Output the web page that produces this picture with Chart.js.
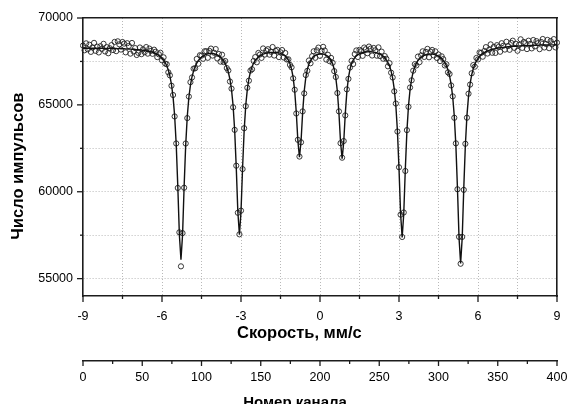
<!DOCTYPE html>
<html>
<head>
<meta charset="utf-8">
<title>Мёссбауэровский спектр</title>
<script src="https://cdn.jsdelivr.net/npm/chart.js@4"></script>
<style>
  html, body { margin: 0; padding: 0; background: #fff; }
  canvas { display: block; }
</style>
</head>
<body>
<canvas id="spectrum" width="570" height="404"></canvas>
<script>
// velocity of the first channel and the step between channels, mm/s
const velocityStart = -9;
const velocityStep = 0.06;

// measured counts, one per channel
const counts = [
  68412, 68142, 68542, 68201, 68461, 68050, 68300, 68569, 68108, 68348,
  68017, 68376, 68225, 68514, 68073, 68322, 67971, 68259, 68438, 68156,
  68624, 68091, 68658, 68486, 68183, 68620, 68526, 68023, 68549, 68394,
  67949, 68563, 68076, 68269, 67870, 67992, 68303, 67920, 68198, 68034,
  68327, 67948, 68240, 68107, 67939, 68176, 68056, 67748, 67911, 68002,
  67565, 67737, 67376, 67341, 66873, 66700, 66103, 65568, 64335, 62779,
  60219, 57664, 55707, 57618, 60231, 62777, 64239, 65477, 66307, 66580,
  67086, 67106, 67644, 67368, 67858, 67833, 67651, 68086, 68089, 67709,
  68108, 68240, 67836, 67998, 68212, 67671, 67928, 67488, 67888, 67462,
  67527, 67119, 66979, 66345, 65934, 64862, 63561, 61500, 58790, 57548,
  58912, 61305, 63656, 64925, 65985, 66393, 66974, 67051, 67528, 67750,
  67451, 67990, 67899, 67704, 68248, 67893, 68127, 68205, 67890, 68057,
  68329, 67840, 68105, 68165, 67750, 68025, 68156, 67727, 67988, 67611,
  67622, 67300, 67161, 66528, 65872, 64505, 62989, 62025, 62848, 64625,
  65662, 66716, 66959, 67555, 67395, 67802, 68085, 67709, 68140, 68297,
  67820, 68102, 68340, 68128, 67606, 67885, 67519, 67703, 67421, 66943,
  66604, 65681, 64626, 62796, 61959, 62918, 64394, 65893, 66496, 67151,
  67535, 67351, 67923, 68133, 67754, 68169, 68086, 67823, 68301, 68202,
  67973, 68356, 68237, 67840, 68275, 68139, 67830, 68309, 67807, 68064,
  67655, 67808, 67653, 67220, 67402, 66854, 66577, 65780, 65078, 63465,
  61411, 58681, 57397, 58806, 61195, 63547, 64888, 66000, 66414, 66968,
  67344, 67271, 67780, 67460, 67852, 68083, 67759, 68050, 68223, 67738,
  68063, 68160, 67846, 68081, 67701, 67898, 67522, 67794, 67634, 67269,
  67338, 66872, 66779, 66118, 65490, 64257, 62786, 60143, 57403, 55856,
  57401, 60108, 62761, 64261, 65643, 66168, 66819, 67290, 67198, 67700,
  67615, 68019, 67991, 67773, 68103, 68323, 67955, 68171, 68481, 67997,
  68338, 67988, 68437, 68332, 68057, 68550, 68401, 68182, 68633, 68382,
  68170, 68567, 68694, 68281, 68518, 68114, 68449, 68774, 68279, 68623,
  68557, 68211, 68694, 68508, 68251, 68734, 68367, 68670, 68553, 68206,
  68619, 68792, 68304, 68507, 68739, 68262, 68673, 68495, 68786, 68308,
  68579
];

// fitted curve, same channels
const fitCounts = [
  68262, 68262, 68262, 68261, 68261, 68260, 68260, 68259, 68258, 68258,
  68257, 68256, 68255, 68254, 68253, 68252, 68251, 68249, 68248, 68246,
  68244, 68241, 68238, 68236, 68233, 68230, 68226, 68223, 68219, 68214,
  68209, 68203, 68196, 68189, 68180, 68172, 68163, 68150, 68138, 68124,
  68107, 68088, 68070, 68047, 68019, 67986, 67946, 67898, 67841, 67772,
  67685, 67577, 67436, 67251, 67003, 66660, 66173, 65458, 64375, 62719,
  60309, 57514, 56087, 57498, 60291, 62697, 64349, 65427, 66137, 66620,
  66956, 67206, 67404, 67548, 67658, 67743, 67811, 67866, 67909, 67939,
  67958, 67960, 67956, 67938, 67912, 67871, 67818, 67748, 67658, 67542,
  67387, 67169, 66879, 66475, 65874, 64952, 63521, 61390, 58850, 57528,
  58842, 61385, 63526, 64965, 65895, 66503, 66914, 67201, 67408, 67560,
  67661, 67750, 67819, 67874, 67918, 67953, 67977, 67995, 68010, 68017,
  68019, 68020, 68015, 68005, 67990, 67965, 67926, 67877, 67808, 67711,
  67572, 67370, 67061, 66578, 65792, 64545, 62919, 61995, 62908, 64535,
  65782, 66566, 67049, 67355, 67555, 67692, 67785, 67849, 67890, 67917,
  67930, 67932, 67920, 67898, 67856, 67795, 67699, 67563, 67361, 67053,
  66564, 65771, 64506, 62856, 61909, 62838, 64494, 65763, 66566, 67061,
  67375, 67581, 67723, 67823, 67894, 67949, 67986, 68013, 68031, 68042,
  68053, 68056, 68057, 68050, 68035, 68019, 67990, 67959, 67917, 67864,
  67795, 67708, 67593, 67440, 67232, 66944, 66527, 65910, 64968, 63505,
  61331, 58741, 57367, 58716, 61305, 63477, 64938, 65880, 66494, 66908,
  67194, 67401, 67550, 67660, 67742, 67803, 67849, 67880, 67903, 67918,
  67923, 67920, 67906, 67881, 67851, 67808, 67752, 67674, 67574, 67439,
  67258, 67012, 66669, 66178, 65450, 64347, 62656, 60193, 57333, 55876,
  57341, 60208, 62681, 64381, 65493, 66228, 66729, 67080, 67338, 67530,
  67675, 67789, 67881, 67953, 68013, 68063, 68105, 68141, 68171, 68197,
  68218, 68238, 68257, 68272, 68287, 68300, 68311, 68322, 68333, 68342,
  68350, 68357, 68364, 68371, 68378, 68384, 68389, 68394, 68399, 68403,
  68407, 68411, 68414, 68418, 68421, 68424, 68427, 68430, 68433, 68436,
  68439, 68442, 68444, 68447, 68449, 68452, 68453, 68455, 68456, 68458,
  68459
];

// axis ticks
const velocityMajor = [-9, -6, -3, 0, 3, 6, 9];
const velocityMinor = [-7.5, -4.5, -1.5, 1.5, 4.5, 7.5];
const countMajor = [55000, 60000, 65000, 70000];
const countMinor = [57500, 62500, 67500];
const channelMajor = [0, 50, 100, 150, 200, 250, 300, 350, 400];
const channelMinor = [25, 75, 125, 175, 225, 275, 325, 375];

const FONT = "'Liberation Sans', Arial, Helvetica, sans-serif";
const AXIS = '#1c1c1c';
const GRID = '#b9b9b9';
const NBSP = '\u00a0';

const toPoints = arr => arr.map((y, i) => ({ x: velocityStart + i * velocityStep, y }));
const setTicks = values => scale => {
    scale.ticks = values.slice().sort((a, b) => a - b).map(value => ({ value }));
};
const hideAt = edges => c => (c.tick && edges.includes(c.tick.value)) ? 'rgba(0,0,0,0)' : GRID;

// fixed box sizes, and no extra room for labels hanging over the ends
const fixHeight = h => scale => {
    scale.height = h;
    scale.paddingLeft = 0;
    scale.paddingRight = 0;
};
const fixWidth = w => scale => {
    scale.width = w;
    scale.paddingTop = 0;
    scale.paddingBottom = 0;
};

// short minor / long major tick marks, drawn outside the frame
const tickMarks = {
    id: 'tickMarks',
    afterDraw(chart) {
        const { ctx, scales } = chart;
        ctx.save();
        ctx.strokeStyle = AXIS;
        ctx.lineWidth = 1.3;
        const down = (scale, values, len) => values.forEach(v => {
            const x = scale.getPixelForValue(v);
            ctx.beginPath();
            ctx.moveTo(x, scale.top);
            ctx.lineTo(x, scale.top + len);
            ctx.stroke();
        });
        const left = (scale, values, len) => values.forEach(v => {
            const y = scale.getPixelForValue(v);
            ctx.beginPath();
            ctx.moveTo(scale.right, y);
            ctx.lineTo(scale.right - len, y);
            ctx.stroke();
        });
        down(scales.x, velocityMajor, 6);
        down(scales.x, velocityMinor, 3);
        down(scales.x2, channelMajor, 5);
        down(scales.x2, channelMinor, 3);
        left(scales.y, countMajor, 6);
        left(scales.y, countMinor, 3);
        ctx.restore();
    }
};

const tickFont = { family: FONT, size: 12.5 };
const titleFont = size => ({ family: FONT, size, weight: 'bold' });

new Chart(document.getElementById('spectrum'), {
    type: 'scatter',
    data: {
        datasets: [
            {
                type: 'line',
                label: 'fit',
                data: toPoints(fitCounts),
                borderColor: '#111',
                borderWidth: 1.4,
                pointRadius: 0,
                tension: 0,
                fill: false,
                order: 0,
                clip: 2
            },
            {
                type: 'scatter',
                label: 'counts',
                data: toPoints(counts),
                pointRadius: 2.6,
                pointBorderWidth: 0.9,
                pointBorderColor: '#222',
                pointBackgroundColor: 'rgba(255,255,255,0)',
                order: 1,
                clip: 3
            }
        ]
    },
    options: {
        responsive: false,
        animation: false,
        devicePixelRatio: 1,
        layout: { padding: { top: 18, right: 13, bottom: 0, left: 0 } },
        plugins: { legend: { display: false }, tooltip: { enabled: false } },
        scales: {
            x: {
                type: 'linear',
                position: 'bottom',
                weight: 0,
                min: -9,
                max: 9,
                afterBuildTicks: setTicks(velocityMajor.concat(velocityMinor)),
                afterFit: fixHeight(65),
                ticks: {
                    autoSkip: false,
                    maxRotation: 0,
                    padding: 13,
                    color: '#000',
                    font: tickFont,
                    callback: v => velocityMajor.includes(v) ? String(v) : ''
                },
                grid: { drawTicks: false, lineWidth: 1, color: hideAt([-9, 9]) },
                border: { display: true, color: AXIS, width: 1.6, dash: [1, 2] },
                title: {
                    display: true,
                    text: 'Скорость, мм/с' + NBSP.repeat(9),
                    color: '#000',
                    font: titleFont(16.5),
                    padding: { top: 0, bottom: 18.1 }
                }
            },
            x2: {
                type: 'linear',
                position: 'bottom',
                weight: 1,
                min: 0,
                max: 400,
                display: true,
                afterBuildTicks: setTicks(channelMajor),
                afterFit: fixHeight(43),
                ticks: {
                    autoSkip: false,
                    maxRotation: 0,
                    padding: 9,
                    color: '#000',
                    font: tickFont,
                    callback: v => String(v)
                },
                grid: { display: false, drawTicks: false },
                border: { display: true, color: AXIS, width: 1.6 },
                title: {
                    display: true,
                    text: 'Номер канала' + NBSP.repeat(12),
                    color: '#000',
                    font: titleFont(15),
                    padding: { top: 0, bottom: -7.5 }
                }
            },
            xTop: {
                type: 'linear',
                position: 'top',
                min: -9,
                max: 9,
                display: true,
                afterFit: fixHeight(0),
                ticks: { display: false },
                grid: { display: false, drawTicks: false },
                border: { display: true, color: AXIS, width: 1.6 }
            },
            y: {
                type: 'linear',
                position: 'left',
                min: 54000,
                max: 70000,
                afterBuildTicks: setTicks(countMajor.concat(countMinor)),
                afterFit: fixWidth(83),
                ticks: {
                    autoSkip: false,
                    padding: 10,
                    color: '#000',
                    font: tickFont,
                    callback: v => countMajor.includes(v) ? String(v) : ''
                },
                grid: { drawTicks: false, lineWidth: 1, color: hideAt([70000]) },
                border: { display: true, color: AXIS, width: 1.6, dash: [1, 2] },
                title: {
                    display: true,
                    text: 'Число импульсов' + NBSP.repeat(4),
                    color: '#000',
                    font: titleFont(16.5),
                    padding: { top: 8.1, bottom: 0 }
                }
            },
            yRight: {
                type: 'linear',
                position: 'right',
                min: 54000,
                max: 70000,
                display: true,
                afterFit: fixWidth(0),
                ticks: { display: false },
                grid: { display: false, drawTicks: false },
                border: { display: true, color: AXIS, width: 1.6 }
            }
        }
    },
    plugins: [tickMarks]
});
</script>
</body>
</html>
